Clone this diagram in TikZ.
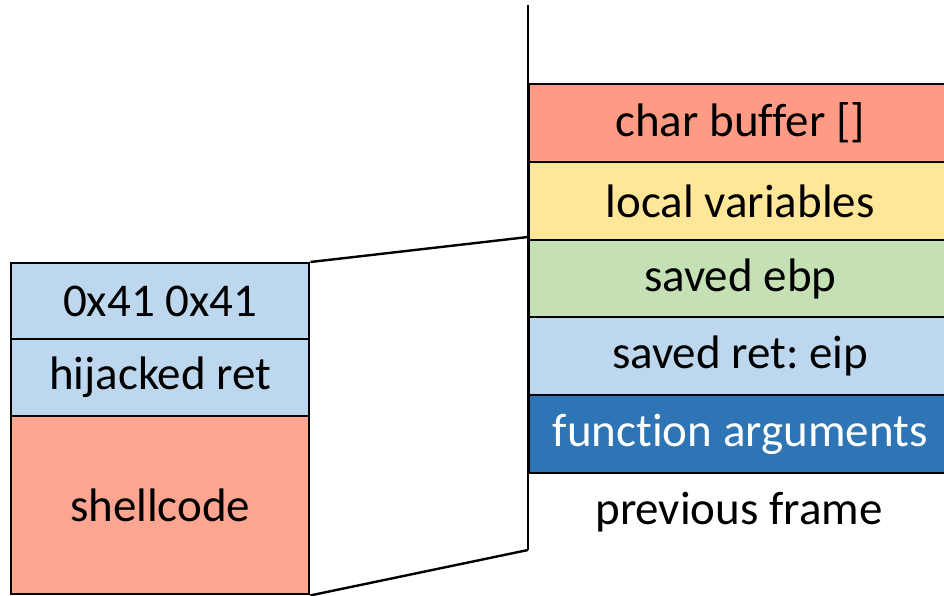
\documentclass[tikz,border=0pt]{standalone}
\usepackage{fontspec}
\setmainfont{Carlito}[RawFeature={-liga;-clig;-dlig}]
\definecolor{cbuf}{HTML}{FF9A85}
\definecolor{cloc}{HTML}{FFE699}
\definecolor{cebp}{HTML}{C5E0B4}
\definecolor{cret}{HTML}{BDD7EE}
\definecolor{carg}{HTML}{2E75B6}
\definecolor{cshell}{HTML}{FCA590}
\frenchspacing
\begin{document}
\begin{tikzpicture}[x=1pt,y=-1pt,line width=2.4pt,
  txt/.style={font=\fontsize{47}{56}\selectfont},
  rcell/.style={draw=black,txt,anchor=north west,inner sep=0pt,
    minimum width=422pt,minimum height=78pt},
  lcell/.style={draw=black,txt,anchor=north west,inner sep=0pt,
    minimum width=298pt,minimum height=#1},
  link/.style={draw=black,line width=2.4pt}]
\useasboundingbox (0,0) rectangle (944,596);
\clip (0,0) rectangle (944,596);
% right stack
\node[rcell,fill=cbuf] (buf) at (528,83) {char buffer []};
\node[rcell,fill=cloc] (loc) at (528,161) {local variables};
\node[rcell,fill=cebp] (ebp) at (528,239) {saved ebp};
\node[rcell,fill=cret] (ret) at (528,316) {saved ret: eip};
\node[rcell,fill=carg,text=white] (arg) at (528,394) {function arguments};
\node[txt,inner sep=0pt] (prev) at (739,512) {previous frame};
% left stack
\node[lcell=76pt,fill=cret] (aa) at (10,262) {0x41 0x41};
\node[lcell=77pt,fill=cret] (hij) at (10,338) {hijacked ret};
\node[lcell=178pt,fill=cshell] (sc) at (10,415) {shellcode};
% axis and zoom lines
\coordinate (vtop) at (528,5);
\coordinate (vbot) at (528,550);
\coordinate (jtop) at (528,237);
\draw[link] (vtop) -- (vbot);
\draw[link] (aa.north east) -- (jtop);
\draw[link] (sc.south east) -- (vbot);
\end{tikzpicture}
\end{document}
